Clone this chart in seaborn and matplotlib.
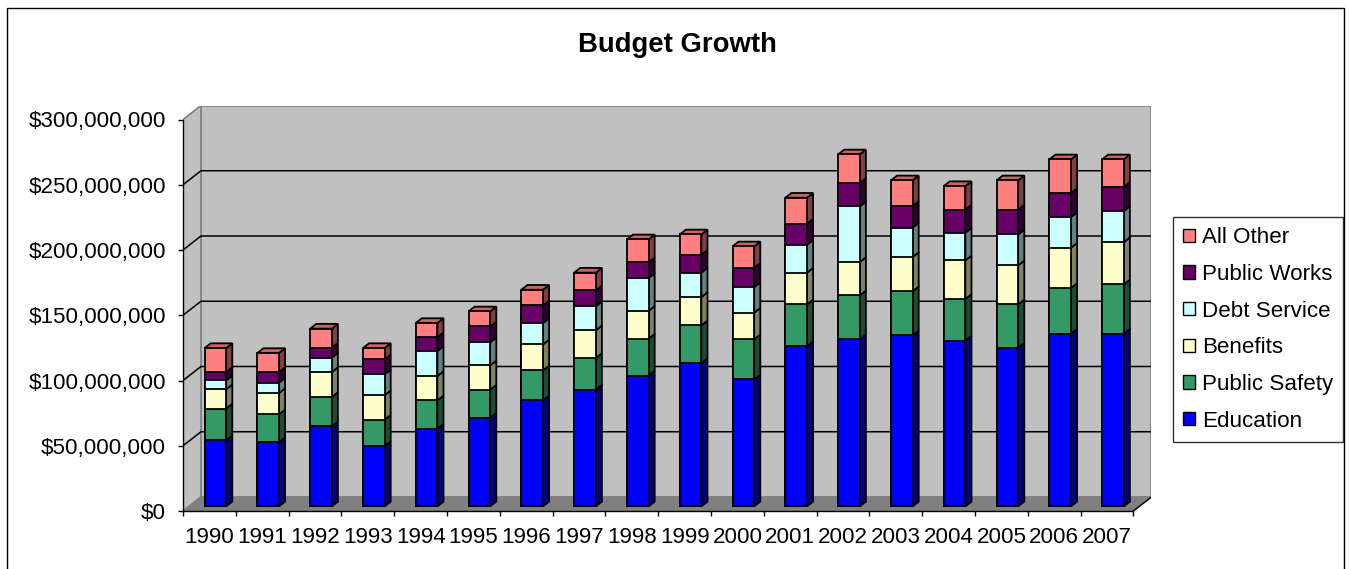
import numpy as np
import pandas as pd
import matplotlib
matplotlib.use("Agg")
import matplotlib.pyplot as plt
from matplotlib.patches import Polygon, Patch, Rectangle
from matplotlib.ticker import FuncFormatter
import seaborn as sns

# Budget by category, in millions of dollars
years = ["1990", "1991", "1992", "1993", "1994", "1995", "1996", "1997", "1998",
         "1999", "2000", "2001", "2002", "2003", "2004", "2005", "2006", "2007"]
education = [50.6, 49.0, 61.3, 46.2, 59.5, 68.0, 81.2, 89.4, 100.2,
             109.8, 97.3, 122.8, 128.0, 131.0, 127.0, 121.6, 132.3, 132.3]
public_safety = [24.3, 21.5, 22.5, 20.2, 21.7, 21.4, 23.0, 24.2, 28.3,
                 28.9, 30.7, 32.0, 33.7, 33.8, 31.9, 33.2, 35.0, 37.8]
benefits = [14.8, 16.3, 19.1, 18.7, 18.6, 18.6, 19.9, 21.3, 21.2,
            21.7, 20.4, 24.3, 25.5, 26.2, 29.6, 29.9, 30.9, 32.4]
debt_service = [6.9, 8.0, 11.0, 16.0, 19.2, 17.7, 16.4, 18.4, 25.2,
                18.7, 19.6, 21.4, 42.7, 22.6, 21.2, 23.7, 23.5, 23.8]
public_works = [6.3, 8.1, 7.7, 11.5, 10.7, 12.2, 13.5, 12.2, 12.1,
                13.8, 14.9, 16.1, 17.8, 16.5, 17.7, 19.0, 18.4, 18.4]
all_other = [18.4, 14.6, 14.6, 8.7, 10.8, 11.5, 12.0, 13.6, 17.6,
             15.5, 16.3, 19.9, 22.0, 19.7, 18.0, 22.4, 25.8, 21.2]

series_names = ["Education", "Public Safety", "Benefits", "Debt Service",
                "Public Works", "All Other"]
series_values = [education, public_safety, benefits, debt_service,
                 public_works, all_other]
series_colors = ["#0000FF", "#339966", "#FFFFCC", "#CCFFFF", "#660066", "#FF8080"]

y_ticks = [0, 50e6, 100e6, 150e6, 200e6, 250e6, 300e6]

# ---- layout of the pseudo-3D box (oblique projection) ----
W, H, DPI = 1349, 569, 100
px_x = 52.8                  # pixels per category
px_y = 1.305 / 1e6           # pixels per dollar
depth_x = 18 / px_x          # depth offset in category units
depth_y = 14 / px_y          # depth offset in dollars
bar_width = 0.41
bar_front = 0.33             # fraction of depth where bar front face sits
bar_depth = 0.34             # fraction of depth taken by a bar
FS = 16.1

n = len(years)
x_min, x_max = -0.5, n - 0.5
y_top = y_ticks[-1]

sns.set_style("white")
plt.rcParams["font.family"] = ["Liberation Sans", "DejaVu Sans"]
for key in ["text.color", "axes.labelcolor", "xtick.color", "ytick.color"]:
    plt.rcParams[key] = "black"

fig = plt.figure(figsize=(W / DPI, H / DPI), dpi=DPI)
left_px, right_px = 183, 183 + (x_max + depth_x - x_min) * px_x
bottom_px, top_px = 511, 511 - (y_top + depth_y) * px_y
ax = fig.add_axes([left_px / W, 1 - bottom_px / H,
                   (right_px - left_px) / W, (bottom_px - top_px) / H])
ax.set_facecolor("none")

# stacked data frame
df = pd.DataFrame({"year": years})
for name, vals in zip(series_names, series_values):
    df[name] = np.array(vals) * 1e6
cum = df[series_names].cumsum(axis=1)

# front faces: overlay cumulative totals, tallest first
base_x = bar_front * depth_x
base_y = bar_front * depth_y
for name, color in zip(series_names[::-1], series_colors[::-1]):
    before = len(ax.patches)
    sns.barplot(data=cum.assign(year=years), x="year", y=name, order=years,
                color=color, saturation=1, width=bar_width, errorbar=None,
                edgecolor="black", linewidth=1.3, ax=ax, zorder=3)
    for p in ax.patches[before:]:
        p.set_x(p.get_x() + base_x)
        p.set_y(base_y)


def shade(hex_color, k):
    rgb = np.array(matplotlib.colors.to_rgb(hex_color)) * k
    return tuple(rgb)


# side and top faces derived from the same stacked values
bdx = bar_depth * depth_x
bdy = bar_depth * depth_y
lower = np.zeros(n)
for name, color in zip(series_names, series_colors):
    upper = cum[name].to_numpy()
    for i in range(n):
        xr = i - bar_width / 2 + base_x + bar_width
        b, t = lower[i] + base_y, upper[i] + base_y
        ax.add_patch(Polygon([(xr, b), (xr + bdx, b + bdy), (xr + bdx, t + bdy), (xr, t)],
                             closed=True, facecolor=shade(color, 0.5),
                             edgecolor="black", linewidth=1.3, zorder=2.9))
    lower = upper
top_color = series_colors[-1]
for i in range(n):
    xl = i - bar_width / 2 + base_x
    xr = xl + bar_width
    t = lower[i] + base_y
    ax.add_patch(Polygon([(xl, t), (xl + bdx, t + bdy), (xr + bdx, t + bdy), (xr, t)],
                         closed=True, facecolor=shade(top_color, 0.78),
                         edgecolor="black", linewidth=1.3, zorder=2.9))

# walls and floor
wall = "#C0C0C0"
ax.add_patch(Polygon([(x_min + depth_x, depth_y), (x_max + depth_x, depth_y),
                      (x_max + depth_x, y_top + depth_y), (x_min + depth_x, y_top + depth_y)],
                     closed=True, facecolor=wall, edgecolor="#808080", linewidth=1.2, zorder=0.5))
ax.add_patch(Polygon([(x_min, 0), (x_min + depth_x, depth_y),
                      (x_min + depth_x, y_top + depth_y), (x_min, y_top)],
                     closed=True, facecolor=wall, edgecolor="#808080", linewidth=1.2, zorder=0.6))
ax.add_patch(Polygon([(x_min, 0), (x_max, 0), (x_max + depth_x, depth_y), (x_min + depth_x, depth_y)],
                     closed=True, facecolor="#808080", edgecolor="#808080", linewidth=1.0, zorder=0.7))
ax.plot([x_max, x_max + depth_x], [0, depth_y], color="black", lw=1.0, zorder=0.8)

# gridlines on side and back walls
for v in y_ticks[1:-1]:
    ax.plot([x_min, x_min + depth_x, x_max + depth_x], [v, v + depth_y, v + depth_y],
            color="black", lw=1.1, zorder=0.9)

ax.set_xlim(x_min, x_max + depth_x)
ax.set_ylim(0, y_top + depth_y)

# axes: front-left value axis and front-bottom category axis
for s in ["top", "right"]:
    ax.spines[s].set_visible(False)
ax.spines["left"].set_bounds(0, y_top)
ax.spines["bottom"].set_bounds(x_min, x_max)
for s in ["left", "bottom"]:
    ax.spines[s].set_color("black")
    ax.spines[s].set_linewidth(1.0)
    ax.spines[s].set_zorder(5)

ax.set_yticks(y_ticks)
ax.yaxis.set_major_formatter(FuncFormatter(lambda v, _: f"${v:,.0f}"))
ax.set_xticks(range(n))
ax.set_xticklabels(years)
ax.set_xticks(np.arange(n + 1) - 0.5, minor=True)
ax.tick_params(axis="y", direction="out", length=3.6, width=1, color="black",
               labelsize=FS, labelcolor="black", pad=8.5, left=True)
ax.tick_params(axis="x", which="major", length=0, labelsize=FS,
               labelcolor="black", pad=11.5)
ax.tick_params(axis="x", which="minor", direction="out", length=3.6, width=1,
               color="black", bottom=True)
ax.set_xlabel("")
ax.set_ylabel("")

fig.text(0.502, 1 - 45 / H, "Budget Growth", ha="center", va="center",
         fontsize=19.8, fontweight="bold", color="black")

handles = [Patch(facecolor=c, edgecolor="black", linewidth=1.0)
           for c in series_colors[::-1]]
leg = fig.legend(handles, series_names[::-1], loc="upper left",
                 bbox_to_anchor=(1172.7 / W, 1 - 217.3 / H), frameon=True,
                 fancybox=False, edgecolor="black", fontsize=FS,
                 handlelength=0.55, handleheight=0.55, handletextpad=0.3,
                 labelspacing=0.7, borderpad=0.45, borderaxespad=0,
                 labelcolor="black")
leg.get_frame().set_linewidth(1.0)

# chart border
fig.patches.append(Rectangle((7 / W, -0.05), (1344 - 7) / W, 1.05 - 8 / H,
                             transform=fig.transFigure, fill=False,
                             edgecolor="black", linewidth=1.0))

fig.savefig("out.png", dpi=DPI)
